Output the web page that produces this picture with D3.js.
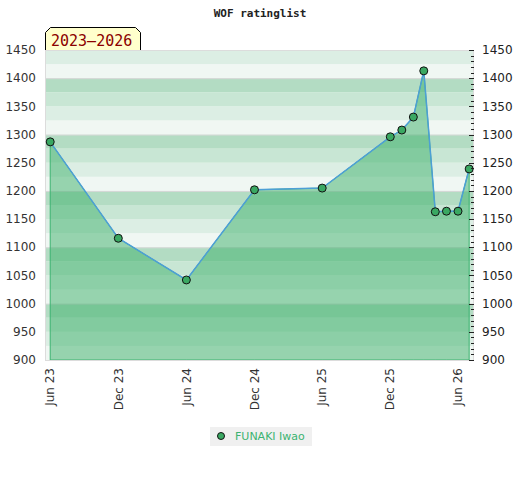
<!DOCTYPE html>
<html><head><meta charset="utf-8">
<script src="https://cdn.jsdelivr.net/npm/d3@7"></script>
<style>body{margin:0;background:#fff}svg{display:block}</style>
</head><body>
<svg id="c" width="520" height="480"></svg>
<script>
const dates = ["2023-06-01","2023-12-01","2024-06-01","2024-12-01","2025-06-01","2025-12-01","2026-01-01","2026-02-01","2026-03-01","2026-04-01","2026-05-01","2026-06-01","2026-07-01"];
const ratings = [1287,1116,1042,1202,1205,1296,1308,1331,1413,1163,1164,1164,1239];
const xTickDates = ["2023-06-01","2023-12-01","2024-06-01","2024-12-01","2025-06-01","2025-12-01","2026-06-01"];
const yTicks = [900,950,1000,1050,1100,1150,1200,1250,1300,1350,1400,1450];
const title = "WOF ratinglist";
const periodLabel = "2023\u20132026";
const seriesName = "FUNAKI Iwao";

const parse = d3.utcParse("%Y-%m-%d");
const data = dates.map((d,i)=>({date:parse(d), v:ratings[i]}));
const svg = d3.select("#c");
const L=45, R=474, T=50, B=360;
const x = d3.scaleUtc().domain([parse("2023-05-18"), parse("2026-07-14")]).range([L,R]);
const y = d3.scaleLinear().domain([900,1450]).range([B,T]);

// background bands (25-unit stripes, darkest just below each hundred)
const bandCols = ["#b3dcc3","#c8e6d4","#dceee4","#f0f7f3"];
const bands = d3.range(900,1450,25);
svg.append("g").selectAll("rect").data(bands).join("rect")
  .attr("x",L).attr("width",R-L)
  .attr("y",d=>y(d+25)).attr("height",d=>y(d)-y(d+25))
  .attr("fill",d=>bandCols[(((1400-(d+25))%100)+100)%100/25]);
// grid lines every 100
svg.append("g").selectAll("line").data([1000,1100,1200,1300,1400]).join("line")
  .attr("x1",L).attr("x2",R).attr("y1",d=>y(d)+0.5).attr("y2",d=>y(d)+0.5)
  .attr("stroke","#d8d8d8").attr("stroke-width",1);

// area
const area = d3.area().x(d=>x(d.date)).y0(B).y1(d=>y(d.v));
svg.append("path").datum(data).attr("d",area)
  .attr("fill","rgba(60,175,105,0.5)").attr("stroke","#3cb371").attr("stroke-width",1);
// frame
svg.append("rect").attr("x",L+0.5).attr("y",T+0.5).attr("width",R-L-1).attr("height",B-T)
  .attr("fill","none").attr("stroke","#dcdcdc");
// line
const line = d3.line().x(d=>x(d.date)).y(d=>y(d.v));
svg.append("path").datum(data).attr("d",line).attr("fill","none")
  .attr("stroke","#4d9fd6").attr("stroke-width",1.5);
// points
svg.append("g").selectAll("circle").data(data).join("circle")
  .attr("cx",d=>x(d.date)).attr("cy",d=>y(d.v)).attr("r",4)
  .attr("fill","#3aa862").attr("stroke","#111").attr("stroke-width",1);

// left axis labels
const fnt = "DejaVu Sans, sans-serif";
svg.append("g").selectAll("text").data(yTicks).join("text")
  .attr("x",36).attr("y",d=>y(d)).attr("dy","0.35em").attr("text-anchor","end")
  .attr("font-family",fnt).attr("font-size",12).attr("fill","#333").text(d=>d);
// right axis
const ra = svg.append("g").attr("transform",`translate(${R},0)`);
ra.selectAll("line").data(d3.range(900,1451,10)).join("line")
  .attr("x1",d=>d%50===0?-5:-3).attr("x2",0).attr("y1",d=>Math.round(y(d))+0.5).attr("y2",d=>Math.round(y(d))+0.5)
  .attr("stroke","#222");
ra.selectAll("text").data(yTicks).join("text")
  .attr("x",8).attr("y",d=>y(d)).attr("dy","0.35em")
  .attr("font-family",fnt).attr("font-size",12).attr("fill","#222").text(d=>d);
// x labels
const fmt = d3.utcFormat("%b %y");
svg.append("g").selectAll("text").data(xTickDates.map(parse)).join("text")
  .attr("transform",d=>`translate(${x(d)},368) rotate(-90)`)
  .attr("text-anchor","end").attr("dy","0.35em")
  .attr("font-family",fnt).attr("font-size",12).attr("fill","#333").text(d=>fmt(d));

// title
svg.append("text").attr("x",260).attr("y",17).attr("text-anchor","middle")
  .attr("font-family","DejaVu Sans Mono, monospace").attr("font-weight","bold").attr("font-size",11)
  .attr("fill","#222").text(title);
// period box
svg.append("path").attr("d","M45.5,50 L45.5,32.5 L50.5,27.5 L135.5,27.5 L140.5,32.5 L140.5,50")
  .attr("fill","#ffffcc").attr("stroke","#000");
svg.append("text").attr("x",51).attr("y",46).attr("font-family","DejaVu Sans Mono, monospace")
  .attr("font-size",15).attr("fill","#8b0000").text(periodLabel);

// legend
svg.append("rect").attr("x",210).attr("y",427).attr("width",102).attr("height",19).attr("fill","#f0f0f0");
svg.append("circle").attr("cx",221).attr("cy",436).attr("r",3.5).attr("fill","#3aa862").attr("stroke","#111");
svg.append("text").attr("x",235).attr("y",440).attr("font-family",fnt).attr("font-size",11)
  .attr("fill","#3cb371").text(seriesName);
</script>
</body></html>
